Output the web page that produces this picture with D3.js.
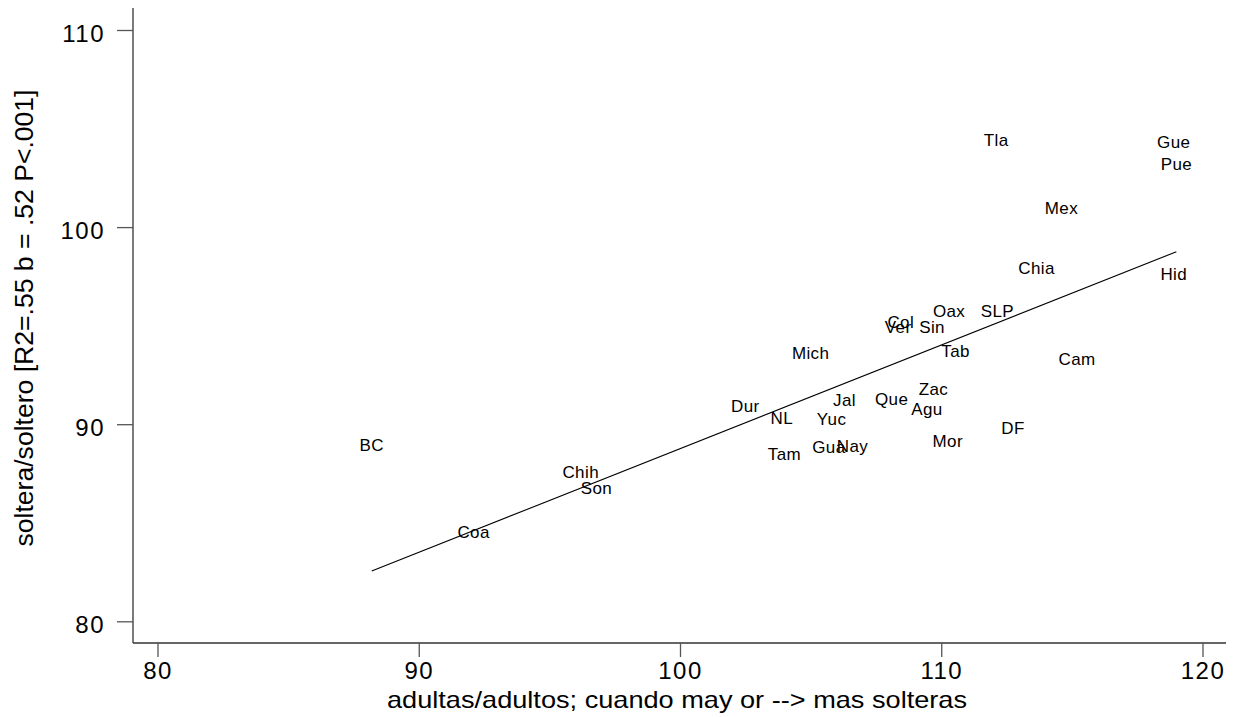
<!DOCTYPE html>
<html>
<head>
<meta charset="utf-8">
<script src="https://cdn.jsdelivr.net/npm/d3@7.9.0/dist/d3.min.js"></script>
<style>
  html, body { margin: 0; padding: 0; background: #fff; }
  svg { display: block; font-family: "Liberation Sans", Arial, sans-serif; }
</style>
</head>
<body>
<svg id="chart" width="1233" height="717"></svg>
<script>
// state labels and their values
const states = ["BC", "Chih", "Son", "Coa", "Dur", "NL", "Tam", "Mich", "Gua", "Yuc",
  "Jal", "Nay", "Que", "Col", "Ver", "Sin", "Agu", "Zac", "Oax", "Tab", "Mor",
  "Tla", "SLP", "DF", "Chia", "Mex", "Cam", "Gue", "Pue", "Hid"];
const adultRatio = [88.2, 96.2, 96.8, 92.1, 102.5, 103.9, 104.0, 105.0, 105.7, 105.8,
  106.3, 106.6, 108.1, 108.45, 108.35, 109.65, 109.45, 109.7, 110.3, 110.55, 110.25,
  112.1, 112.15, 112.75, 113.65, 114.6, 115.2, 118.9, 119.0, 118.9];
const singleRatio = [88.95, 87.6, 86.75, 84.55, 90.95, 90.3, 88.5, 93.6, 88.85, 90.25,
  91.25, 88.9, 91.3, 95.2, 94.95, 94.95, 90.8, 91.8, 95.75, 93.7, 89.15,
  104.45, 95.75, 89.8, 97.95, 101.0, 93.3, 104.3, 103.2, 97.65];

// fitted line end points
const fitX = [88.2, 119.0];
const fitY = [82.55, 98.75];

const xTicks = [80, 90, 100, 110, 120];
const yTicks = [80, 90, 100, 110];
const xTitle = "adultas/adultos; cuando may or --> mas solteras";
const yTitle = "soltera/soltero [R2=.55 b = .52 P<.001]";

const svg = d3.select("#chart");

const x = d3.scaleLinear().domain([80, 120]).range([157.5, 1202.5]);
const y = d3.scaleLinear().domain([80, 110]).range([621.3, 30]);

const axisLeftX = 133, axisBottomY = 643;

// axis lines
svg.append("line")
  .attr("x1", axisLeftX).attr("x2", axisLeftX)
  .attr("y1", 8).attr("y2", axisBottomY)
  .attr("stroke", "#333").attr("stroke-width", 1.3);
svg.append("line")
  .attr("x1", axisLeftX).attr("x2", 1226)
  .attr("y1", axisBottomY).attr("y2", axisBottomY)
  .attr("stroke", "#333").attr("stroke-width", 1.3);

// y axis
const gy = svg.append("g")
  .attr("transform", `translate(${axisLeftX},0)`)
  .call(d3.axisLeft(y).tickValues(yTicks).tickSize(16).tickPadding(12).tickSizeOuter(0));
gy.select(".domain").remove();
gy.selectAll(".tick line").attr("stroke", "#555").attr("stroke-width", 1.3);
gy.selectAll(".tick text")
  .attr("font-size", 24).attr("fill", "#000").attr("dy", "0.48em")
  .attr("letter-spacing", 1.5)
  .attr("font-family", "Liberation Sans, Arial, sans-serif");

// x axis
const gx = svg.append("g")
  .attr("transform", `translate(0,${axisBottomY})`)
  .call(d3.axisBottom(x).tickValues(xTicks).tickSize(14).tickPadding(5).tickSizeOuter(0));
gx.select(".domain").remove();
gx.selectAll(".tick line").attr("stroke", "#555").attr("stroke-width", 1.3);
gx.selectAll(".tick text")
  .attr("font-size", 24).attr("fill", "#000")
  .attr("letter-spacing", 1.5)
  .attr("font-family", "Liberation Sans, Arial, sans-serif");

// fitted line
const line = d3.line().x(d => x(d[0])).y(d => y(d[1]));
svg.append("path")
  .attr("d", line(d3.zip(fitX, fitY)))
  .attr("fill", "none")
  .attr("stroke", "#000")
  .attr("stroke-width", 1.1);

// state labels, centred on their points
svg.append("g")
  .selectAll("text")
  .data(d3.range(states.length))
  .join("text")
  .attr("x", i => x(adultRatio[i]))
  .attr("y", i => y(singleRatio[i]))
  .attr("dy", "0.36em")
  .attr("text-anchor", "middle")
  .attr("font-size", 17)
  .attr("letter-spacing", 0.4)
  .attr("fill", "#000")
  .text(i => states[i]);

// axis titles
svg.append("text")
  .attr("x", 677).attr("y", 708)
  .attr("text-anchor", "middle")
  .attr("font-size", 24)
  .attr("textLength", 580).attr("lengthAdjust", "spacingAndGlyphs")
  .text(xTitle);

svg.append("text")
  .attr("transform", "translate(33,318) rotate(-90)")
  .attr("text-anchor", "middle")
  .attr("font-size", 26)
  .attr("textLength", 457).attr("lengthAdjust", "spacingAndGlyphs")
  .text(yTitle);
</script>
</body>
</html>
